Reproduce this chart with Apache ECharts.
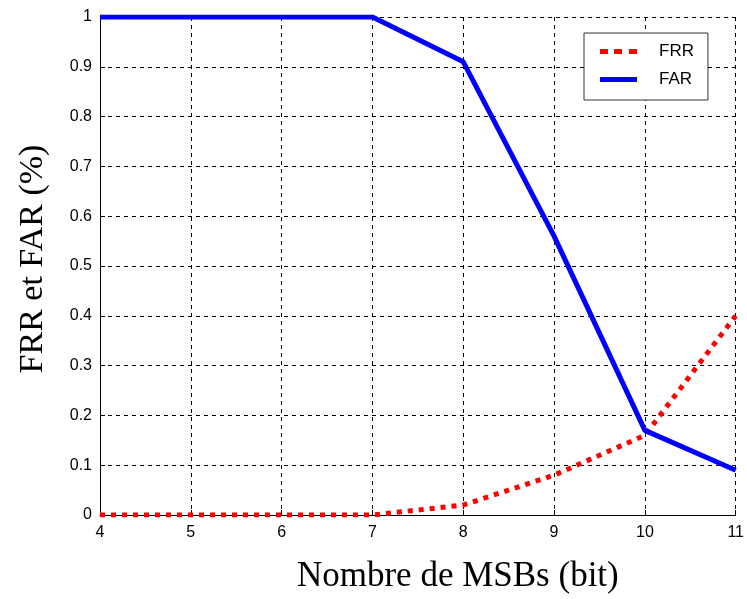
<!DOCTYPE html>
<html>
<head>
<meta charset="utf-8">
<script src="https://cdn.jsdelivr.net/npm/echarts@6/dist/echarts.min.js"></script>
<style>
  html, body { margin: 0; padding: 0; background: #fff; }
  #chart { width: 747px; height: 599px; }
</style>
</head>
<body>
<div id="chart"></div>
<script>
// nombre de MSBs
const msbs = [4, 5, 6, 7, 8, 9, 10, 11];
const frr = [0, 0, 0, 0, 0.02, 0.08, 0.16, 0.40];
const far = [1, 1, 1, 1, 0.91, 0.56, 0.17, 0.09];

const myChart = echarts.init(document.getElementById('chart'));

const labelStyle = {
    color: '#000',
    fontFamily: 'Liberation Sans, Arial, sans-serif',
    fontSize: 16
};

const options = {
    animation: false,
    grid: { left: 100, right: 7, top: 17, bottom: 80 },
    legend: {
        orient: 'vertical',
        left: 584,
        top: 33,
        padding: [10, 14, 12, 16],
        itemWidth: 37,
        itemHeight: 5,
        itemGap: 11,
        borderColor: '#333',
        borderWidth: 1,
        backgroundColor: '#fff',
        textStyle: { color: '#000', fontFamily: 'Liberation Sans, Arial, sans-serif', fontSize: 17, padding: [0, 0, 0, 17] },
        data: [
            { name: 'FRR', icon: 'path://M0,0h8v5h-8z M14,0h8v5h-8z M29,0h8v5h-8z', itemStyle: { color: '#ff0000' } },
            { name: 'FAR', icon: 'rect', itemStyle: { color: '#0000ff' } }
        ]
    },
    xAxis: {
        type: 'value',
        min: 4,
        max: 11,
        interval: 1,
        name: 'Nombre de MSBs (bit)',
        nameLocation: 'middle',
        nameGap: 44,
        nameTextStyle: { color: '#000', fontFamily: 'Liberation Serif, Times New Roman, serif', fontSize: 35, padding: [0, 0, 0, 80] },
        axisLine: { lineStyle: { color: '#000', width: 1 } },
        axisTick: { inside: true, length: 5, lineStyle: { color: '#000' } },
        axisLabel: Object.assign({ margin: 10 }, labelStyle),
        splitLine: { show: true, lineStyle: { color: '#000', type: [4, 4], width: 1 } }
    },
    yAxis: {
        type: 'value',
        min: 0,
        max: 1,
        interval: 0.1,
        name: 'FRR et FAR (%)',
        nameLocation: 'middle',
        nameGap: 50,
        nameTextStyle: { color: '#000', fontFamily: 'Liberation Serif, Times New Roman, serif', fontSize: 34, padding: [0, 0, 0, 14] },
        axisLine: { show: true, lineStyle: { color: '#000', width: 1 } },
        axisTick: { show: true, inside: true, length: 5, lineStyle: { color: '#000' } },
        axisLabel: Object.assign({ margin: 8, formatter: v => String(Math.round(v * 10) / 10) }, labelStyle),
        splitLine: { show: true, lineStyle: { color: '#000', type: [4, 4], width: 1 } }
    },
    series: [
        {
            name: 'FRR',
            type: 'line',
            symbol: 'none',
            data: msbs.map((x, i) => [x, frr[i]]),
            lineStyle: { color: '#ff0000', width: 5, type: [5, 6] },
            itemStyle: { color: '#ff0000' },
            z: 3
        },
        {
            name: 'FAR',
            type: 'line',
            symbol: 'none',
            data: msbs.map((x, i) => [x, far[i]]),
            lineStyle: { color: '#0000ff', width: 5 },
            itemStyle: { color: '#0000ff' },
            z: 4
        }
    ]
};

myChart.setOption(options);
</script>
</body>
</html>
